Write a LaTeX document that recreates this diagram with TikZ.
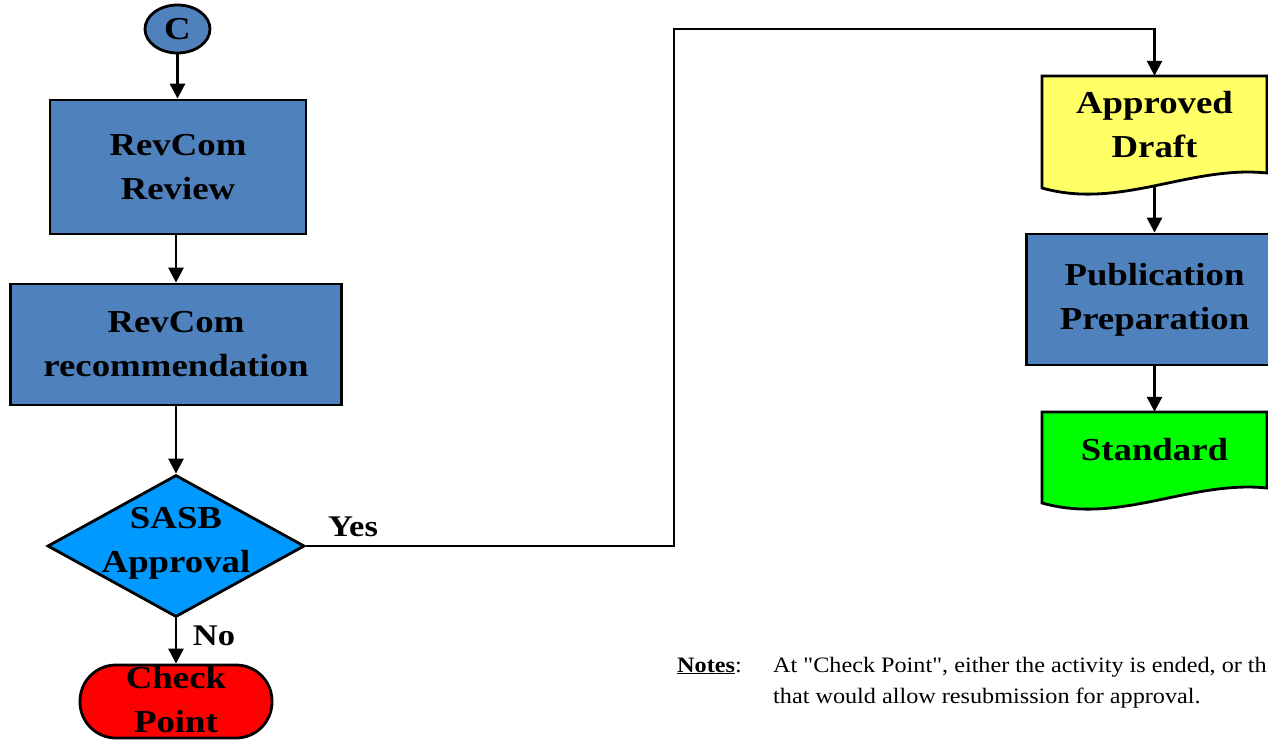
\documentclass[tikz,border=0pt]{standalone}
\usepackage{fontspec}
\setmainfont{Liberation Serif}
\newfontfamily\boxfont{Liberation Serif}[FakeStretch=1.15]
\newfontfamily\notesfont{Liberation Serif}[FakeStretch=1.1,Ligatures=TeXOff]
\usetikzlibrary{shapes.geometric,arrows.meta}
\definecolor{ofblue}{RGB}{79,129,189}
\definecolor{dblue}{RGB}{0,153,255}
\definecolor{docyellow}{RGB}{255,255,102}
\definecolor{docgreen}{RGB}{0,255,0}
\definecolor{cpred}{RGB}{255,0,0}
\begin{document}
\begin{tikzpicture}[x=1pt,y=-1pt,
  lbl/.style={font=\boxfont\bfseries\fontsize{32}{44}\selectfont, align=center, inner sep=0pt},
  outl/.style={draw=black, line width=2.8pt},
  conn/.style={draw=black, line width=2.8pt, -{Triangle[length=15pt,width=15pt]}},
  procbox/.style={rectangle, outl, fill=ofblue, lbl},
  edgelbl/.style={font=\boxfont\bfseries\fontsize{30}{36}\selectfont, inner sep=0pt},
  notefont/.style={font=\notesfont\fontsize{22}{31}\selectfont, inner sep=0pt}]
\useasboundingbox (0,0) rectangle (1268,739);
\clip (0,0) rectangle (1268,739);

% start connector
\node[ellipse, outl, fill=ofblue, minimum width=65pt, minimum height=48pt, lbl] (c) at (177.5,29) {C};

% process boxes
\node[procbox, minimum width=256pt, minimum height=134pt] (rr) at (178,167) {RevCom\\Review};
\node[procbox, minimum width=331pt, minimum height=121pt] (rec) at (176,344.5) {RevCom\\recommendation};

% decision
\node[diamond, outl, fill=dblue, minimum width=257pt, minimum height=142pt, inner sep=0pt, aspect=1.8] (sasb) at (176,546) {};
\node[lbl] (sasbt) at (176,543) {SASB\\Approval};

% check point terminator
\node[rectangle, outl, fill=cpred, rounded corners=36pt, minimum width=192pt, minimum height=73pt, inner sep=0pt] (cp) at (176,701.5) {};
\node[lbl] (cpt) at (176,700) {Check\\Point};

% approved draft (document shape)
\draw[outl, fill=docyellow] (1042,76) -- (1267,76) -- (1267,173)
  .. controls (1190,165) and (1120,210) .. (1042,188) -- cycle;
\node[lbl, minimum width=225pt, minimum height=97pt] (ad) at (1154.5,124.5) {Approved\\Draft};
\coordinate (adb) at (1154.5,186);

% publication preparation
\node[procbox, minimum width=256pt, minimum height=131pt] (pp) at (1154.5,299.5) {Publication\\Preparation};

% standard (document shape)
\draw[outl, fill=docgreen] (1042,412) -- (1267,412) -- (1267,488)
  .. controls (1190,480) and (1120,525) .. (1042,503) -- cycle;
\node[lbl, minimum width=225pt, minimum height=76pt] (std) at (1154.5,450) {Standard};

% connectors
\draw[conn] (c.south) -- (c.south |- rr.north);
\draw[conn] (rr.south -| rec) -- (rec.north);
\draw[conn] (rec.south) -- (sasb.north);
\draw[conn] (sasb.south) -- (cp.north);
\coordinate (turn) at (674,29);
\draw[conn] (sasb.east) -| (turn) -| (ad.north);
\draw[conn] (adb) -- (pp.north);
\draw[conn] (pp.south) -- (std.north);

% edge labels
\node[edgelbl] (yes) at (353,527) {Yes};
\node[edgelbl] (no) at (214,636) {No};

% notes
\node[notefont, anchor=base west] (nlbl) at (677,672) {\textbf{\underline{Notes}}:};
\node[notefont, anchor=base west] (n1) at (773,672) {At "Check Point", either the activity is ended, or th};
\node[notefont, anchor=base west] (n2) at (773,703) {that would allow resubmission for approval.};
\end{tikzpicture}
\end{document}
